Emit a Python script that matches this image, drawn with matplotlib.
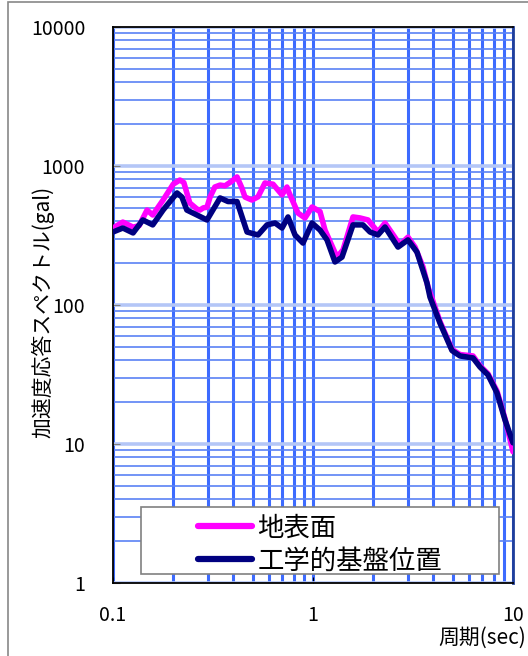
import matplotlib as mpl
mpl.use("Agg")
import matplotlib.pyplot as plt
import matplotlib.patches as mpatches
from matplotlib.ticker import LogLocator, NullFormatter, FixedLocator

mpl.rcParams["font.family"] = ["Noto Sans CJK JP", "DejaVu Sans"]

# 地表面
period_surface = [0.100, 0.112, 0.126, 0.135, 0.148, 0.158, 0.178, 0.200, 0.216, 0.226,
                  0.234, 0.242, 0.263, 0.272, 0.283, 0.295, 0.306, 0.323, 0.343, 0.363,
                  0.394, 0.417, 0.440, 0.457, 0.495, 0.531, 0.575, 0.631, 0.700, 0.741,
                  0.760, 0.841, 0.912, 0.989, 1.084, 1.148, 1.318, 1.413, 1.585, 1.718,
                  1.884, 2.113, 2.291, 2.723, 2.985, 3.236, 3.548, 3.758, 4.315, 4.955,
                  5.433, 6.310, 6.839, 7.499, 8.318, 9.120, 10.0]
acc_surface = [358, 395, 363, 372, 482, 444, 569, 740, 793, 760,
               640, 542, 490, 482, 500, 505, 600, 706, 729, 720,
               780, 834, 700, 598, 569, 600, 755, 740, 620, 706,
               640, 459, 423, 507, 470, 346, 221, 249, 430, 423,
               409, 335, 389, 271, 308, 261, 188, 135, 76, 48,
               44, 43, 36.5, 32, 24, 15.2, 8.8]

# 工学的基盤位置
period_base = [0.100, 0.112, 0.126, 0.141, 0.158, 0.178, 0.209, 0.221, 0.234, 0.263,
               0.295, 0.343, 0.376, 0.417, 0.468, 0.531, 0.589, 0.646, 0.700, 0.750,
               0.813, 0.891, 0.989, 1.084, 1.175, 1.288, 1.396, 1.585, 1.778, 1.928,
               2.113, 2.291, 2.661, 2.985, 3.311, 3.715, 3.846, 4.315, 4.955, 5.433,
               6.310, 6.839, 7.499, 8.318, 9.120, 10.0]
acc_base = [335, 358, 330, 409, 377, 482, 640, 598, 482, 444,
            409, 589, 555, 555, 335, 319, 377, 389, 358, 430,
            319, 279, 389, 346, 294, 204, 221, 377, 377, 335,
            319, 364, 261, 294, 240, 144, 114, 74, 47, 43,
            41.6, 35.8, 31.4, 23.3, 14.9, 10.2]

labels = ["地表面", "工学的基盤位置"]
colors = ["#FF00FF", "#000080"]

fig = plt.figure(figsize=(5.28, 6.56), dpi=100)
ax = fig.add_axes([113 / 528, 1 - 583 / 656, 400 / 528, 556 / 656])

ax.set_xscale("log")
ax.set_yscale("log")
ax.set_xlim(0.1, 10)
ax.set_ylim(1, 10000)

# grid
ax.xaxis.set_minor_locator(LogLocator(base=10, subs=range(2, 10)))
ax.yaxis.set_minor_locator(LogLocator(base=10, subs=range(2, 10)))
ax.grid(which="major", axis="x", color="#3D6BFF", linewidth=2.2, zorder=1)
ax.grid(which="minor", axis="x", color="#3D6BFF", linewidth=2.2, zorder=1)
ax.grid(which="major", axis="y", color="#B4C6F7", linewidth=2.6, zorder=1)
ax.grid(which="minor", axis="y", color="#5A82F5", linewidth=1.2, zorder=1)
ax.set_axisbelow(True)

ax.plot(period_surface, acc_surface, color=colors[0], linewidth=4, label=labels[0],
        solid_joinstyle="round", solid_capstyle="round", zorder=3)
ax.plot(period_base, acc_base, color=colors[1], linewidth=4, label=labels[1],
        solid_joinstyle="round", solid_capstyle="round", zorder=4)

ax.xaxis.set_major_locator(FixedLocator([0.1, 1, 10]))
ax.set_xticklabels(["0.1", "1", "10"])
ax.yaxis.set_major_locator(FixedLocator([1, 10, 100, 1000, 10000]))
ax.set_yticklabels(["1", "10", "100", "1000", "10000"])
ax.xaxis.set_minor_formatter(NullFormatter())
ax.yaxis.set_minor_formatter(NullFormatter())
ax.tick_params(which="minor", length=0)
ax.tick_params(axis="y", which="major", direction="in", length=5, color="#808080",
               labelsize=14, pad=20)
ax.tick_params(axis="x", which="major", direction="in", length=4, color="black",
               labelsize=14, pad=16)

for side in ["left", "bottom", "top"]:
    ax.spines[side].set_color("black")
    ax.spines[side].set_linewidth(1.3)
ax.spines["right"].set_color("#1F3E9A")
ax.spines["right"].set_linewidth(2)

# legend box (Excel style, wide frame)
box = mpatches.Rectangle((0.07, 0.0162), 0.895, 0.1205, transform=ax.transAxes,
                         facecolor="white", edgecolor="#808080", linewidth=1.2, zorder=6)
ax.add_patch(box)
leg = ax.legend(loc="upper left", bbox_to_anchor=(0.2125, 0.123), frameon=False,
                fontsize=19, handlelength=2.05, handletextpad=0.2, labelspacing=0.22,
                borderpad=0, borderaxespad=0)
leg.set_zorder(7)
for line in leg.get_lines():
    line.set_linewidth(4.5)
    line.set_solid_capstyle("round")

fig.text(43 / 528, 1 - 312 / 656, "加速度応答スペクトル(gal)", rotation=90,
         ha="center", va="center", fontsize=15)
fig.text(526 / 528, 1 - 638 / 656, "周期(sec)", ha="right", va="center", fontsize=15)

# outer frame
fig.patches.append(mpatches.Rectangle((8 / 528, -0.05), 1.2, 1 - 1.5 / 656 + 0.05,
                                      transform=fig.transFigure, fill=False,
                                      edgecolor="#888888", linewidth=1.2))

plt.savefig("out.png", dpi=100)
plt.close()
